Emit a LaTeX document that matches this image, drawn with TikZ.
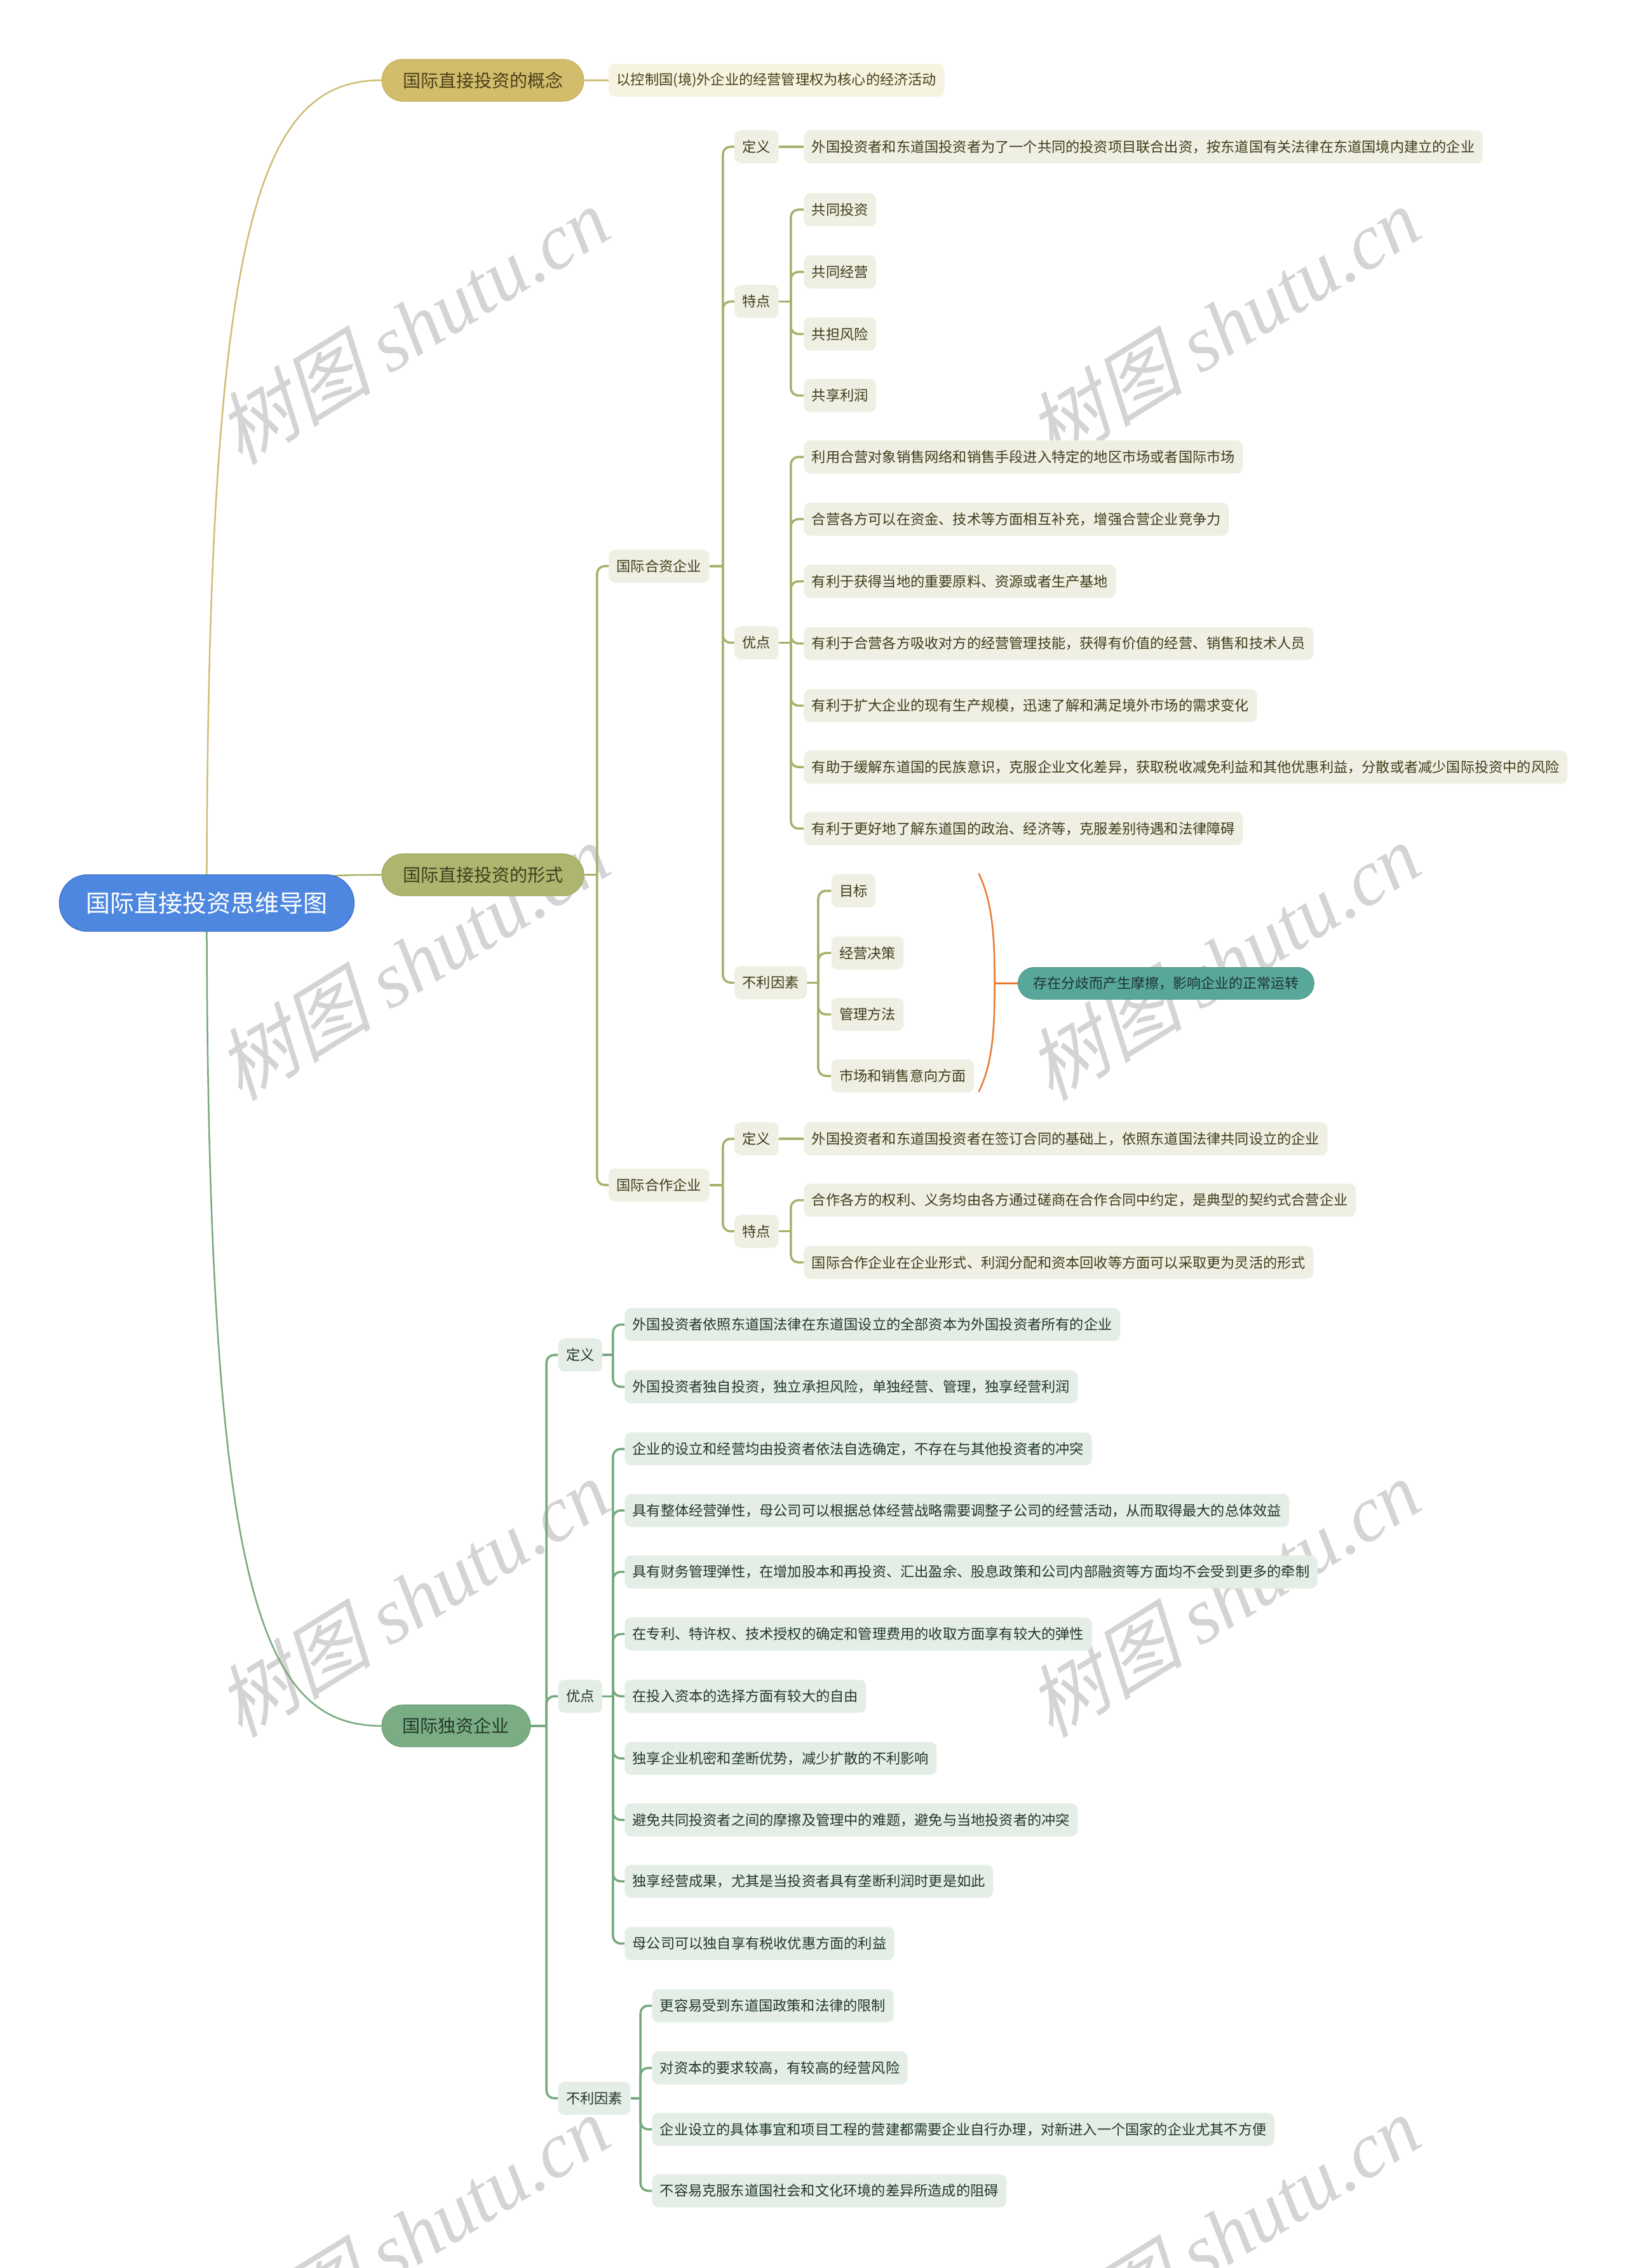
\documentclass[tikz,border=0pt]{standalone}
\usepackage{fontspec}
\setmainfont{Noto Sans CJK SC}
\newfontfamily\wmcjk[FakeSlant=0.25]{Noto Sans CJK SC}
\newfontfamily\wmlat{Liberation Serif}
\usetikzlibrary{backgrounds,calc}
\definecolor{rootc}{HTML}{4E87DF}
\definecolor{rootd}{HTML}{3A6FC6}
\definecolor{goldc}{HTML}{D2BD6C}
\definecolor{goldd}{HTML}{C4AE5C}
\definecolor{goldline}{HTML}{D0BD78}
\definecolor{goldleaf}{HTML}{F6F3E1}
\definecolor{goldtext}{HTML}{4A4018}
\definecolor{olivec}{HTML}{ADB56E}
\definecolor{olived}{HTML}{9DA560}
\definecolor{oliveline}{HTML}{A8B06A}
\definecolor{olivebox}{HTML}{EFEFE3}
\definecolor{olivetext}{HTML}{3E3F1C}
\definecolor{greenc}{HTML}{7BAD84}
\definecolor{greend}{HTML}{6B9D74}
\definecolor{greenline}{HTML}{77A97F}
\definecolor{greenbox}{HTML}{E5EEE6}
\definecolor{greentext}{HTML}{22392A}
\definecolor{tealc}{HTML}{58A79B}
\definecolor{tealtext}{HTML}{1E3330}
\definecolor{bracec}{HTML}{E87A30}
\definecolor{wmc}{HTML}{D4D4D4}
\begin{document}
\begin{tikzpicture}[x=2.2756pt,y=-2.2756pt,
  rootbox/.style={draw=rootd, line width=1.2pt, fill=rootc, text=white, rounded corners=44pt, minimum height=89pt, inner xsep=42pt, inner ysep=0pt, font=\fontsize{38}{44}\selectfont},
  pill/.style={line width=1pt, rounded corners=33pt, minimum height=66pt, inner xsep=33pt, inner ysep=0pt, font=\fontsize{28}{32}\selectfont},
  box/.style={anchor=west, rounded corners=10pt, minimum height=52pt, inner xsep=12.5pt, inner ysep=0pt, font=\fontsize{22.2}{26}\selectfont},
  gbox/.style={box, fill=goldleaf, text=goldtext},
  obox/.style={box, fill=olivebox, text=olivetext},
  ebox/.style={box, fill=greenbox, text=greentext},
  tealbox/.style={anchor=west, fill=tealc, draw=tealc!85!black, line width=0.8pt, text=tealtext, rounded corners=25pt, minimum height=50pt, inner xsep=24pt, inner ysep=0pt, font=\fontsize{22}{26}\selectfont},
  gline/.style={draw=goldline, line width=3pt},
  oline/.style={draw=oliveline, line width=3.5pt, rounded corners=12pt},
  eline/.style={draw=greenline, line width=3.5pt, rounded corners=12pt},
  bline/.style={draw=bracec, line width=2.5pt},
  wm/.style={text=wmc, rotate=31.6, font=\fontsize{124}{130}\selectfont}
]
\useasboundingbox (0,0) rectangle (1125,1568.4);

% root and main branches
\node[rootbox] (root) at (143,624.5) {国际直接投资思维导图};
\node[pill, fill=goldc, draw=goldd, text=goldtext] (gai) at (334,55.5) {国际直接投资的概念};
\node[pill, fill=olivec, draw=olived, text=olivetext] (xs) at (334,605) {国际直接投资的形式};
\node[pill, fill=greenc, draw=greend, text=greentext] (dz) at (315.5,1193.5) {国际独资企业};

% concept
\node[gbox] (gaiL) at (421,55.5) {以控制国(境)外企业的经营管理权为核心的经济活动};

% joint venture
\node[obox] (hz) at (421,391.5) {国际合资企业};
\node[obox] (hzdy) at (508,101.5) {定义};
\node[obox] (hzdyL) at (556,101.5) {外国投资者和东道国投资者为了一个共同的投资项目联合出资，按东道国有关法律在东道国境内建立的企业};
\node[obox] (hztd) at (508,208.5) {特点};
\node[obox] (hztd1) at (556,145) {共同投资};
\node[obox] (hztd2) at (556,188) {共同经营};
\node[obox] (hztd3) at (556,231) {共担风险};
\node[obox] (hztd4) at (556,273.5) {共享利润};
\node[obox] (hzyd) at (508,444.5) {优点};
\node[obox] (hzyd1) at (556,316) {利用合营对象销售网络和销售手段进入特定的地区市场或者国际市场};
\node[obox] (hzyd2) at (556,359) {合营各方可以在资金、技术等方面相互补充，增强合营企业竞争力};
\node[obox] (hzyd3) at (556,402) {有利于获得当地的重要原料、资源或者生产基地};
\node[obox] (hzyd4) at (556,445) {有利于合营各方吸收对方的经营管理技能，获得有价值的经营、销售和技术人员};
\node[obox] (hzyd5) at (556,488) {有利于扩大企业的现有生产规模，迅速了解和满足境外市场的需求变化};
\node[obox] (hzyd6) at (556,530.5) {有助于缓解东道国的民族意识，克服企业文化差异，获取税收减免利益和其他优惠利益，分散或者减少国际投资中的风险};
\node[obox] (hzyd7) at (556,573) {有利于更好地了解东道国的政治、经济等，克服差别待遇和法律障碍};
\node[obox] (hzbl) at (508,679.5) {不利因素};
\node[obox] (hzbl1) at (575,616) {目标};
\node[obox] (hzbl2) at (575,659) {经营决策};
\node[obox] (hzbl3) at (575,701.5) {管理方法};
\node[obox] (hzbl4) at (575,744) {市场和销售意向方面};
\node[tealbox] (fq) at (704,680) {存在分歧而产生摩擦，影响企业的正常运转};

% cooperative
\node[obox] (hzz) at (421,819.5) {国际合作企业};
\node[obox] (hzzdy) at (508,787.5) {定义};
\node[obox] (hzzdyL) at (556,787.5) {外国投资者和东道国投资者在签订合同的基础上，依照东道国法律共同设立的企业};
\node[obox] (hzztd) at (508,851.5) {特点};
\node[obox] (hzztd1) at (556,830) {合作各方的权利、义务均由各方通过磋商在合作合同中约定，是典型的契约式合营企业};
\node[obox] (hzztd2) at (556,873) {国际合作企业在企业形式、利润分配和资本回收等方面可以采取更为灵活的形式};

% wholly owned
\node[ebox] (dzdy) at (386,937) {定义};
\node[ebox] (dzdy1) at (432,916) {外国投资者依照东道国法律在东道国设立的全部资本为外国投资者所有的企业};
\node[ebox] (dzdy2) at (432,959) {外国投资者独自投资，独立承担风险，单独经营、管理，独享经营利润};
\node[ebox] (dzyd) at (386,1173) {优点};
\node[ebox] (dzyd1) at (432,1002) {企业的设立和经营均由投资者依法自选确定，不存在与其他投资者的冲突};
\node[ebox] (dzyd2) at (432,1044.5) {具有整体经营弹性，母公司可以根据总体经营战略需要调整子公司的经营活动，从而取得最大的总体效益};
\node[ebox] (dzyd3) at (432,1087) {具有财务管理弹性，在增加股本和再投资、汇出盈余、股息政策和公司内部融资等方面均不会受到更多的牵制};
\node[ebox] (dzyd4) at (432,1130) {在专利、特许权、技术授权的确定和管理费用的收取方面享有较大的弹性};
\node[ebox] (dzyd5) at (432,1173) {在投入资本的选择方面有较大的自由};
\node[ebox] (dzyd6) at (432,1216) {独享企业机密和垄断优势，减少扩散的不利影响};
\node[ebox] (dzyd7) at (432,1258.5) {避免共同投资者之间的摩擦及管理中的难题，避免与当地投资者的冲突};
\node[ebox] (dzyd8) at (432,1301) {独享经营成果，尤其是当投资者具有垄断利润时更是如此};
\node[ebox] (dzyd9) at (432,1344) {母公司可以独自享有税收优惠方面的利益};
\node[ebox] (dzbl) at (386,1451) {不利因素};
\node[ebox] (dzbl1) at (451,1387) {更容易受到东道国政策和法律的限制};
\node[ebox] (dzbl2) at (451,1430) {对资本的要求较高，有较高的经营风险};
\node[ebox] (dzbl3) at (451,1472.5) {企业设立的具体事宜和项目工程的营建都需要企业自行办理，对新进入一个国家的企业尤其不方便};
\node[ebox] (dzbl4) at (451,1515) {不容易克服东道国社会和文化环境的差异所造成的阻碍};

% trunk points
\coordinate (txs) at (413,605);
\coordinate (thz) at (500,391.5);
\coordinate (thztd) at (547,208.5);
\coordinate (thzyd) at (547,444.5);
\coordinate (thzbl) at (566,679.5);
\coordinate (thzz) at (500,819.5);
\coordinate (thzztd) at (547,851.5);
\coordinate (tdz) at (378,1193.5);
\coordinate (tdzdy) at (424,937);
\coordinate (tdzyd) at (424,1173);
\coordinate (tdzbl) at (443,1451);
\coordinate (bt) at (677,604);
\coordinate (bm) at (688,680);
\coordinate (bb) at (677,755);

\begin{pgfonlayer}{background}
\fill[white] (0,0) rectangle (1125,1568.4);
% watermarks
\foreach \wx in {285,846} {
  \foreach \wy in {225,665,1105,1545} {
    \node[wm] at (\wx,\wy) {{\wmcjk 树图} {\wmlat\itshape shutu.cn}};
  }
}
% root curves
\draw[draw=goldline, line width=2.5pt] (root.center) .. controls (143,150) and (180,55.5) .. (gai.west);
\draw[draw=oliveline, line width=2.5pt] (root.center) .. controls (200,605) and (230,605) .. (xs.west);
\draw[draw=greenline, line width=2.5pt] (root.center) .. controls (143,1100) and (180,1193.5) .. (dz.west);
% concept
\draw[gline] (gai.east) -- (gaiL.west);
% form
\draw[oline] (xs.east) -- (txs);
\draw[oline] (txs) |- (hz.west);
\draw[oline] (txs) |- (hzz.west);
\draw[oline] (hz.east) -- (thz);
\foreach \c in {hzdy,hztd,hzyd,hzbl} { \draw[oline] (thz) |- (\c.west); }
\draw[oline] (hzdy.east) -- (hzdyL.west);
\draw[oline] (hztd.east) -- (thztd);
\foreach \c in {hztd1,hztd2,hztd3,hztd4} { \draw[oline] (thztd) |- (\c.west); }
\draw[oline] (hzyd.east) -- (thzyd);
\foreach \c in {hzyd1,hzyd2,hzyd3,hzyd4,hzyd5,hzyd6,hzyd7} { \draw[oline] (thzyd) |- (\c.west); }
\draw[oline] (hzbl.east) -- (thzbl);
\foreach \c in {hzbl1,hzbl2,hzbl3,hzbl4} { \draw[oline] (thzbl) |- (\c.west); }
\draw[bline] (bt) .. controls (687,625) and (688,650) .. (bm) .. controls (688,710) and (687,735) .. (bb);
\draw[bline] (bm) -- (fq.west);
\draw[oline] (hzz.east) -- (thzz);
\foreach \c in {hzzdy,hzztd} { \draw[oline] (thzz) |- (\c.west); }
\draw[oline] (hzzdy.east) -- (hzzdyL.west);
\draw[oline] (hzztd.east) -- (thzztd);
\foreach \c in {hzztd1,hzztd2} { \draw[oline] (thzztd) |- (\c.west); }
% wholly owned
\draw[eline] (dz.east) -- (tdz);
\foreach \c in {dzdy,dzyd,dzbl} { \draw[eline] (tdz) |- (\c.west); }
\draw[eline] (dzdy.east) -- (tdzdy);
\foreach \c in {dzdy1,dzdy2} { \draw[eline] (tdzdy) |- (\c.west); }
\draw[eline] (dzyd.east) -- (tdzyd);
\foreach \c in {dzyd1,dzyd2,dzyd3,dzyd4,dzyd5,dzyd6,dzyd7,dzyd8,dzyd9} { \draw[eline] (tdzyd) |- (\c.west); }
\draw[eline] (dzbl.east) -- (tdzbl);
\foreach \c in {dzbl1,dzbl2,dzbl3,dzbl4} { \draw[eline] (tdzbl) |- (\c.west); }
\end{pgfonlayer}
\end{tikzpicture}
\end{document}
